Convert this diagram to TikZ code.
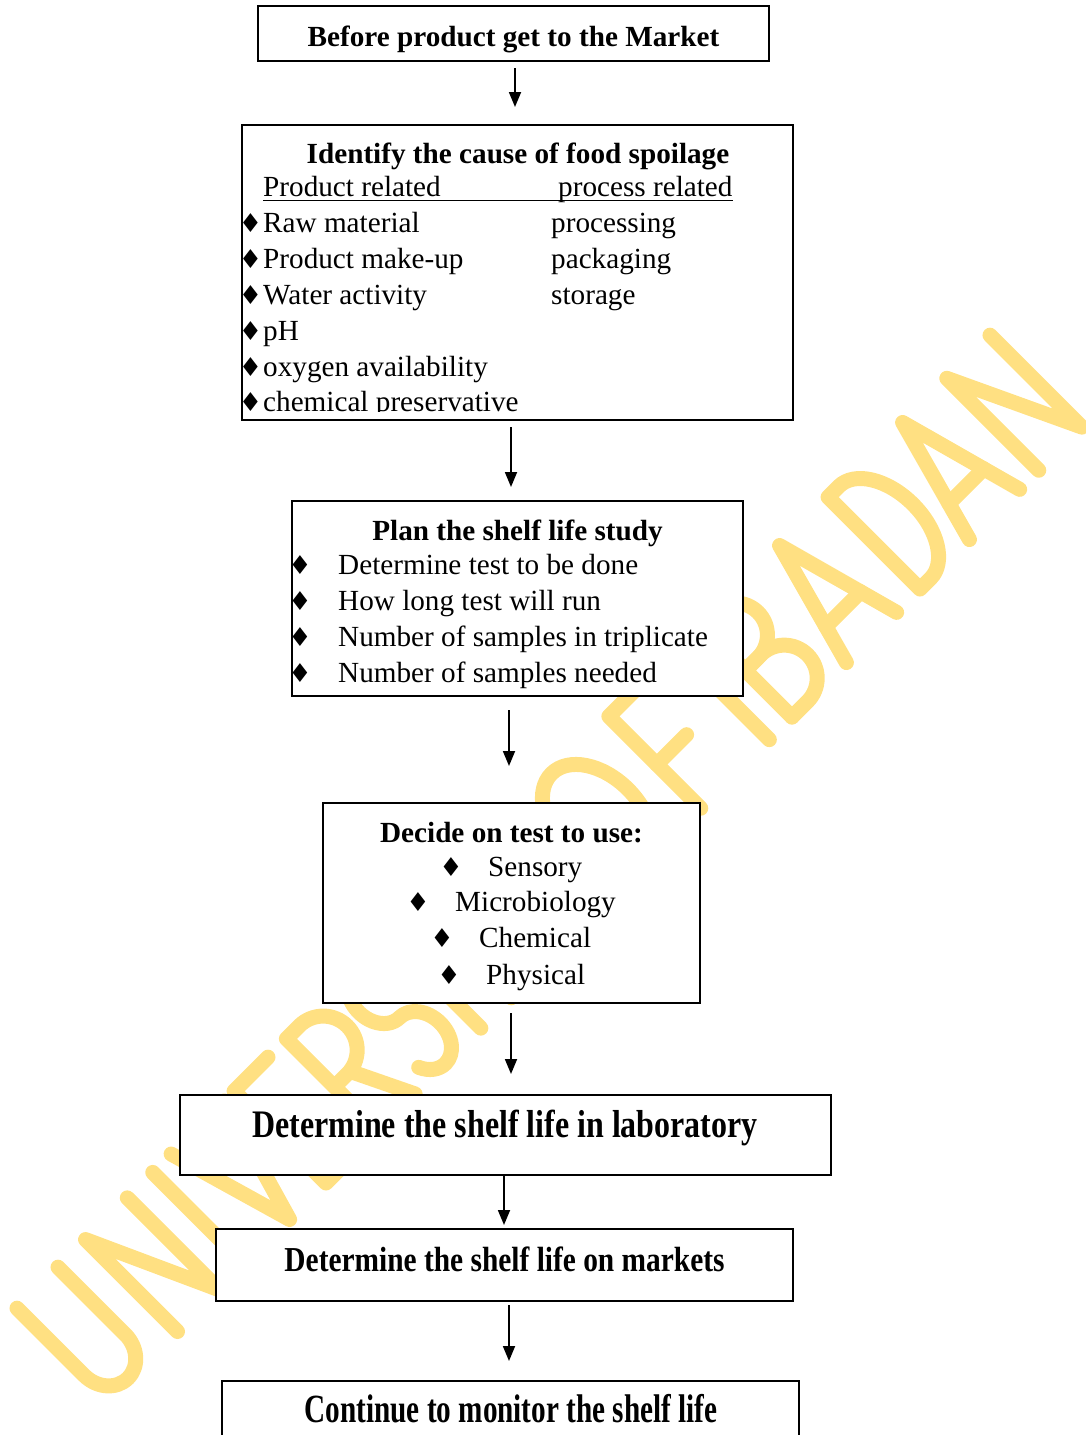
\documentclass[tikz,border=0pt]{standalone}
\usepackage{fontspec}
\setmainfont{Liberation Serif}
\newfontfamily\symf{DejaVu Sans}
\usetikzlibrary{arrows.meta}
\definecolor{wm}{RGB}{255,224,130}
\newcommand\myrm{\fontsize{29.2}{35}\selectfont}
\newcommand\mybf{\fontsize{29.2}{35}\selectfont\bfseries}
\newcommand\dia{{\symf\fontsize{26}{26}\selectfont ♦}}
\tikzset{
  box/.style={draw=black, line width=1.8pt, fill=white, inner sep=0pt},
  arr/.style={-{Triangle[length=15pt,width=12pt]}, line width=1.8pt},
  wmk/.style={draw=wm, line width=15pt, line cap=round, line join=round},
  tl/.style={inner sep=0pt, anchor=base west, font=\myrm},
  tc/.style={inner sep=0pt, anchor=base, font=\myrm},
  tb/.style={inner sep=0pt, anchor=base, font=\mybf},
  bul/.style={inner sep=0pt, anchor=base},
}
\begin{document}
\begin{tikzpicture}[x=1pt,y=-1pt]
\useasboundingbox (0,0) rectangle (1086,1435);
% watermark
\begin{scope}
\clip (0,0) rectangle (1086,1435);
\begin{scope}[shift={(754.5pt,-754.5pt)}, x={(0.7071pt,0.7071pt)}, y={(-0.7071pt,0.7071pt)}, wmk]
% U
\draw (-913,130) -- (-913,35) arc[start angle=180,end angle=360,x radius=29,y radius=33] -- (-855,130);
% N
\draw (-816,0) -- (-816,130) -- (-757,0) -- (-757,130);
% I
\draw (-721,0) -- (-721,130);
% V
\draw (-695,130) -- (-657.5,0) -- (-620,130);
% E
\draw (-558,130) -- (-606,130) -- (-606,0) -- (-558,0);
\draw (-606,66) -- (-564,66);
% R
\draw (-532,0) -- (-532,130) -- (-514,130) arc[start angle=90,end angle=-90,radius=34] -- (-532,62);
\draw (-510,62) -- (-480,0);
% S
\draw (-415.35,113.75) arc[start angle=30,end angle=270,x radius=25,y radius=32.5] arc[start angle=90,end angle=-150,x radius=25,y radius=32.5];
% I
\draw (-387,0) -- (-387,130);
% T
\draw (-369,130) -- (-319,130);
\draw (-344,130) -- (-344,0);
% Y
\draw (-314,130) -- (-286.5,65) -- (-259,130);
\draw (-286.5,65) -- (-286.5,0);
% O
\draw (-157,65) ellipse[x radius=43,y radius=65];
% F
\draw (-26,130) -- (-76,130) -- (-76,0);
\draw (-76,62) -- (-34,62);
% I
\draw (21,0) -- (21,130);
% B
\draw (53,0) -- (53,130) -- (71,130) arc[start angle=90,end angle=-90,radius=32] -- (53,66);
\draw (53,66) -- (75,66) arc[start angle=90,end angle=-90,radius=33] -- (53,0);
% A
\draw (130,0) -- (165.5,130) -- (201,0);
\draw (140.9,40) -- (190.1,40);
% D
\draw (234,0) -- (234,130) -- (249,130) arc[start angle=90,end angle=-90,x radius=40,y radius=65] -- cycle;
% A
\draw (304,0) -- (339.5,130) -- (375,0);
\draw (314.9,40) -- (364.1,40);
% N
\draw (402,0) -- (402,130) -- (463,0) -- (463,130);
\end{scope}
\end{scope}

% boxes
\node[box, minimum width=511pt, minimum height=55pt] (b1) at (513.5,33.5) {};
\node[box, minimum width=551pt, minimum height=295pt] (b2) at (517.5,272.5) {};
\node[box, minimum width=451pt, minimum height=195pt] (b3) at (517.5,598.5) {};
\node[box, minimum width=377pt, minimum height=200pt] (b4) at (511.5,903) {};
\node[box, minimum width=651pt, minimum height=80pt] (b5) at (505.5,1135) {};
\node[box, minimum width=577pt, minimum height=72pt] (b6) at (504.5,1265) {};
\node[box, minimum width=577pt, minimum height=100pt] (b7) at (510.5,1431) {};

% box 1
\node[tb] (t1) at (513.5,46) {Before product get to the Market};
% box 2
\node[tb] (t2) at (518,163) {Identify the cause of food spoilage};
\node[tl] (h1) at (263,196.5) {Product related};
\node[tl] (h2) at (558,196.5) {process related};
\draw[line width=1.4pt] (h1.base west) ++(0,4) coordinate (ul1) -- (ul1 -| h2.east);
\node[bul] (d1) at (250.5,232) {\dia};
\node[tl] (r1) at (263,232) {Raw material};
\node[bul] (d2) at (250.5,268) {\dia};
\node[tl] (r2) at (263,268) {Product make-up};
\node[bul] (d3) at (250.5,304) {\dia};
\node[tl] (r3) at (263,304) {Water activity};
\node[bul] (d4) at (250.5,340) {\dia};
\node[tl] (r4) at (263,340) {pH};
\node[bul] (d5) at (250.5,376) {\dia};
\node[tl] (r5) at (263,376) {oxygen availability};
\begin{scope}
\clip (240,385) rectangle (800,411);
\node[bul] (d6) at (250.5,411) {\dia};
\node[tl] (r6) at (263,411) {chemical preservative};
\end{scope}
\node[tl] (p1) at (551,232) {processing};
\node[tl] (p2) at (551,268) {packaging};
\node[tl] (p3) at (551,304) {storage};
% box 3
\node[tb] (t3) at (517.5,540) {Plan the shelf life study};
\node[bul] (e1) at (300,574.5) {\dia};
\node[tl] (s1) at (338,574.5) {Determine test to be done};
\node[bul] (e2) at (300,610.5) {\dia};
\node[tl] (s2) at (338,610.5) {How long test will run};
\node[bul] (e3) at (300,646.5) {\dia};
\node[tl] (s3) at (338,646.5) {Number of samples in triplicate};
\node[bul] (e4) at (300,682.5) {\dia};
\node[tl] (s4) at (338,682.5) {Number of samples needed};
% box 4
\node[tb] (t4) at (511.5,842) {Decide on test to use:};
\node[bul] (f1) at (451,876) {\dia};
\node[tl] (u1) at (488,876) {Sensory};
\node[bul] (f2) at (418,911) {\dia};
\node[tl] (u2) at (455,911) {Microbiology};
\node[bul] (f3) at (442,947) {\dia};
\node[tl] (u3) at (479,947) {Chemical};
\node[bul] (f4) at (449,984) {\dia};
\node[tl] (u4) at (486,984) {Physical};
% boxes 5-7
\node[inner sep=0pt, anchor=base, xscale=0.82, font=\fontsize{39}{48}\selectfont\bfseries] (t5) at (505,1137) {Determine the shelf life in laboratory};
\node[inner sep=0pt, anchor=base, xscale=0.84, font=\fontsize{35}{42}\selectfont\bfseries] (t6) at (504.5,1271) {Determine the shelf life on markets};
\node[inner sep=0pt, anchor=base, xscale=0.73, font=\fontsize{40}{48}\selectfont\bfseries] (t7) at (511,1422) {Continue to monitor the shelf life};

% arrows
\coordinate (a1s) at (515,68);   \coordinate (a1e) at (515,107);
\coordinate (a2s) at (511,427);  \coordinate (a2e) at (511,487);
\coordinate (a3s) at (509,710);  \coordinate (a3e) at (509,766);
\coordinate (a4s) at (511,1013); \coordinate (a4e) at (511,1074);
\coordinate (a5s) at (504,1174); \coordinate (a5e) at (504,1225);
\coordinate (a6s) at (509,1305); \coordinate (a6e) at (509,1361);
\draw[arr] (a1s) -- (a1e);
\draw[arr] (a2s) -- (a2e);
\draw[arr] (a3s) -- (a3e);
\draw[arr] (a4s) -- (a4e);
\draw[arr] (a5s) -- (a5e);
\draw[arr] (a6s) -- (a6e);
\end{tikzpicture}
\end{document}
